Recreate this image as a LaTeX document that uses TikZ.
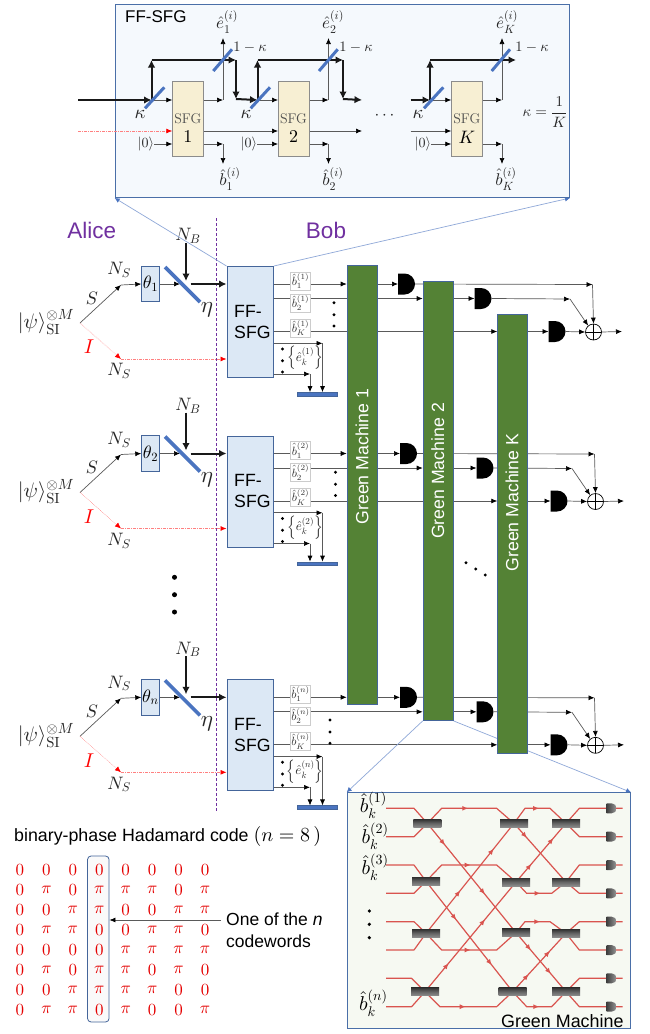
\documentclass[tikz,border=0pt]{standalone}
\usepackage[no-math]{fontspec}
\usepackage{amsmath}
\DeclareFontShape{OML}{cmm}{m}{it}{<-6>cmmi5 <6-8.5>cmmi7 <8.5->cmmi10}{}
\DeclareFontShape{OMS}{cmsy}{m}{n}{<-6>cmsy5 <6-8.5>cmsy7 <8.5->cmsy10}{}
\DeclareFontShape{OMX}{cmex}{m}{n}{<->cmex10}{}
\DeclareFontShape{OT1}{cmr}{m}{n}{<-6>cmr5 <6-8.5>cmr7 <8.5->cmr10}{}
\newfontfamily\arialf{Liberation Sans}
\usetikzlibrary{arrows.meta,decorations.markings,calc}
\pgfdeclarelayer{under}
\pgfsetlayers{under,main}
\newcommand\fsz[1]{\fontsize{#1}{#1}\selectfont}
\definecolor{framebl}{HTML}{4A6FA8}
\definecolor{insetbg}{HTML}{F5F9FD}
\definecolor{boxbl}{HTML}{DCE8F5}
\definecolor{boxedge}{HTML}{44659A}
\definecolor{sfgfill}{HTML}{F7EFD3}
\definecolor{bsblue}{HTML}{4A74C0}
\definecolor{zoomline}{HTML}{8FA8D8}
\definecolor{mgreen}{HTML}{548235}
\definecolor{purp}{HTML}{7030A0}
\definecolor{rline}{HTML}{D9544F}
\definecolor{gmbg}{HTML}{F6F9F2}
\definecolor{lgray}{HTML}{5A5A5A}
\tikzset{
  thinarr/.style={draw=lgray,line width=.7pt,-{Latex[length=6pt,width=5pt,color=black]}},
  thickarr/.style={draw=black!90,line width=2.4pt,-{Latex[length=7.5pt,width=7.5pt]}},
  redarr/.style={draw=red!50,line width=.7pt,dash pattern=on 3pt off 1pt on 1pt off 1pt,-{Latex[length=6pt,width=5pt,color=red]}},
  redtop/.style={draw=red!55,line width=.5pt,densely dotted,-{Latex[length=6pt,width=5pt,color=red]}},
  bsline/.style={draw=bsblue,line width=3.6pt},
  sfgbox/.style={draw=black!45,fill=sfgfill,line width=.8pt,minimum width=31pt,minimum height=75pt,inner sep=0pt,anchor=north west},
  mathlab/.style={inner sep=0pt,text=black!85},
  ffbox/.style={draw=boxedge,fill=boxbl,line width=.9pt,minimum width=46.5pt,minimum height=111pt,inner sep=0pt,anchor=north west,text width=32pt,align=left,font=\arialf\fontsize{17.7}{21}\selectfont},
  thbox/.style={draw=boxedge,fill=boxbl,line width=.8pt,minimum width=17.6pt,minimum height=35.7pt,inner sep=0pt},
  blabel/.style={draw=black!20,fill=white,line width=.4pt,inner sep=0pt,text=black!80,minimum width=20pt,minimum height=18pt},
  machine/.style={draw=boxedge,fill=mgreen,line width=.9pt,minimum width=30pt,inner sep=0pt,anchor=north west},
  machtext/.style={rotate=90,text=white,inner sep=0pt,font=\arialf\fontsize{17.7}{20}\selectfont},
  detector/.style={fill=white,minimum width=17pt,minimum height=21pt,inner sep=0pt,outer sep=0pt,
    path picture={\fill[black] (path picture bounding box.north west) -- ++(6.5pt,0pt) arc[start angle=90,end angle=-90,radius=10.5pt] -- (path picture bounding box.south west) -- cycle;}},
  xorgate/.style={circle,draw=black,line width=.7pt,fill=white,minimum size=16pt,inner sep=0pt,
    path picture={\draw[line width=.6pt] (path picture bounding box.north)--(path picture bounding box.south) (path picture bounding box.east)--(path picture bounding box.west);}},
  dotn/.style={circle,fill=black,inner sep=0pt,minimum size=3.2pt},
  dotbig/.style={circle,fill=black,inner sep=0pt,minimum size=5pt},
  barnode/.style={fill=bsblue,draw=boxedge,line width=.3pt,minimum width=40pt,minimum height=3.4pt,inner sep=0pt},
  redcell/.style={text=red!90!black,inner sep=0pt,font=\fsz{17}},
  gmline/.style={draw=rline,line width=1.2pt},
  gmbs/.style={minimum width=28pt,minimum height=8pt,inner sep=0pt,top color=black!80,bottom color=black!45,middle color=black!60},
  gmdet/.style={minimum width=10pt,minimum height=10pt,inner sep=0pt,outer sep=0pt,
    path picture={\shade[left color=black!75,right color=black!40] (path picture bounding box.north west) -- ++(5pt,0pt) arc[start angle=90,end angle=-90,radius=5pt] -- (path picture bounding box.south west) -- cycle;}},
  marktwo/.style 2 args={postaction={decorate,decoration={markings,
      mark=at position #1 with {\arrow{Latex[length=6pt,width=5pt]}},
      mark=at position #2 with {\arrow{Latex[length=6pt,width=5pt]}}}}},
  markone/.style={postaction={decorate,decoration={markings,
      mark=at position #1 with {\arrow{Latex[length=6pt,width=5pt]}}}}},
}
% prefix, dy, theta sub, sup label, right dx, dots dx, dots dy
\newcommand\stagepart[7]{%
\begin{scope}[shift={(0,#2)}]
  \node[ffbox] (#1ff) at (226.5,266) {FF-\\SFG};
  \node[thbox] (#1th) at (150.5,284) {\fsz{18}$\theta_{#3}$};
  \coordinate (#1fork) at (80,323);
  \coordinate (#1sc) at (121,285);
  \coordinate (#1ic) at (121,359);
  \coordinate (#1bc) at (180,284);
  \coordinate (#1nbtop) at (186,243);
  \coordinate (#1nbend) at (186,281);
  \coordinate (#1thk) at (190.5,284);
  \coordinate (#1y1) at (0,284);
  \coordinate (#1y2) at (0,298.5);
  \coordinate (#1y3) at (0,331.5);
  \coordinate (#1ya) at (0,343.3);
  \coordinate (#1yb) at (0,374);
  \coordinate (#1ca) at (322.5,343.3);
  \coordinate (#1cb) at (310,374);
  \node[mathlab] (#1psi) at (46,322) {\fsz{21}$|\psi\rangle_{\mathrm{SI}}^{\otimes M}$};
  \node[mathlab] (#1S) at (92,298) {\fsz{18}$S$};
  \node[mathlab,text=red] (#1I) at (89,347) {\fsz{20}$I$};
  \node[mathlab] (#1na) at (119,270) {\fsz{18}$N_S$};
  \node[mathlab] (#1nc) at (119,371) {\fsz{18}$N_S$};
  \node[mathlab] (#1nb) at (188,236) {\fsz{18}$N_B$};
  \node[mathlab] (#1eta) at (207,310) {\fsz{23}$\eta$};
  \draw[thinarr] (#1fork) -- (#1sc);
  \draw[thinarr] (#1sc) -- (#1th.west);
  \draw[redtop] (#1fork) -- (#1ic);
  \draw[redarr] (#1ic) -- (#1ff.west |- #1ic);
  \draw[thinarr] (#1th.east) -- (#1bc);
  \coordinate (#1bsa) at (165,267);
  \coordinate (#1bsb) at (200,302);
  \draw[bsline] (#1bsa) -- (#1bsb);
  \draw[thickarr,line width=2pt] (#1nbtop) -- (#1nbend);
  \draw[thickarr,line width=2pt] (#1thk) -- (#1ff.west |- #1thk);
  \draw[thinarr] (#1ff.east |- #1y1) -- (m1.west |- #1y1);
  \draw[thinarr] (#1ff.east |- #1y2) -- (m2.west |- #1y2);
  \draw[thinarr] (#1ff.east |- #1y3) -- (mK.west |- #1y3);
  \node[blabel] (#1ba) at (300.5,281) {\fsz{12}$\hat b_1^{(#4)}$};
  \node[blabel] (#1bb) at (300.5,303) {\fsz{12}$\hat b_2^{(#4)}$};
  \node[blabel] (#1bk) at (300.5,328) {\fsz{12}$\hat b_K^{(#4)}$};
  \node[mathlab] (#1el) at (305,358) {\fsz{13}$\left\{\hat e_k^{(#4)}\right\}$};
  \node[barnode] (#1bar) at (316.7,394) {};
  \draw[thinarr] (#1ff.east |- #1ya) -- (#1ca);
  \draw[thinarr] (#1ca) -- (#1ca |- #1bar.north);
  \draw[thinarr] (#1ff.east |- #1yb) -- (#1cb);
  \draw[thinarr] (#1cb) -- (#1cb |- #1bar.north);
  \foreach \ey [count=\ei] in {349,360.7,372} {\node[dotn] (#1ed\ei) at (282.5,\ey) {};}
  \foreach \ey [count=\ei] in {302.7,314.7,326} {\node[dotn] (#1rd\ei) at (334+#6,\ey+#7) {};}
  \node[detector] (#1d1) at (406.5+#5,284) {};
  \node[detector] (#1d2) at (483+#5,298.5) {};
  \node[detector] (#1d3) at (557+#5,331.5) {};
  \node[xorgate] (#1xor) at (593.5+#5,332) {};
  \coordinate (#1j1) at (592.5+#5,284.5);
  \coordinate (#1j2) at (570+#5,299);
  \coordinate (#1out) at (622+#5,331.5);
  \draw[thinarr] (m1.east |- #1y1) -- (#1d1.west);
  \draw[thinarr] (m2.east |- #1y2) -- (#1d2.west);
  \draw[thinarr] (mK.east |- #1y3) -- (#1d3.west);
  \draw[thinarr] (#1d1.east) -- (#1j1);
  \draw[thinarr] (#1j1) -- (#1xor.north);
  \draw[thinarr] (#1d2.east) -- (#1j2);
  \draw[thinarr] (#1j2) -- (#1xor.130);
  \draw[thinarr] (#1d3.east) -- (#1xor.west);
  \draw[thinarr] (#1xor.east) -- (#1out);
\end{scope}}
\begin{document}
\begin{tikzpicture}[x=1pt,y=-1pt]
\useasboundingbox (0,0) rectangle (650,1034);
\begin{pgfonlayer}{under}
  \fill[white] (0,0) rectangle (650,1034);
\end{pgfonlayer}
% ---------- FF-SFG inset ----------
\node[draw=framebl,fill=insetbg,line width=1pt,minimum width=454.3pt,minimum height=193.5pt,inner sep=0pt,anchor=north west] (inset) at (114.7,3.5) {};
\node[inner sep=0pt,anchor=west,font=\arialf\fontsize{17}{20}\selectfont] (insettitle) at (125,17) {FF-SFG};
\node[sfgbox] (sfg1) at (172.3,81.3) {};
\node[sfgbox] (sfg2) at (278,81.3) {};
\node[sfgbox] (sfgK) at (451.3,81.3) {};
\node[inner sep=0pt,text=black!70] (sfg1t) at (187.8,119) {\fsz{14}SFG};
\node[inner sep=0pt,text=black!70] (sfg2t) at (293.5,119) {\fsz{14}SFG};
\node[inner sep=0pt,text=black!70] (sfgKt) at (466.8,119) {\fsz{14}SFG};
\node[inner sep=0pt] (sfg1n) at (187.8,137) {\fsz{18}$1$};
\node[inner sep=0pt] (sfg2n) at (293.5,137) {\fsz{18}$2$};
\node[inner sep=0pt] (sfgKn) at (466.8,137) {\fsz{18}$K$};
\coordinate (in1) at (78,100);
\coordinate (ri) at (78,131);
\coordinate (b1) at (151.5,100);
\coordinate (t1) at (151.5,60);
\coordinate (q1) at (236,60);
\coordinate (w1) at (236,99);
\coordinate (b2) at (257.5,100);
\coordinate (t2) at (257.5,60);
\coordinate (q2) at (343,60);
\coordinate (w2) at (343,99);
\coordinate (o2) at (362,100);
\coordinate (i3) at (410.7,100);
\coordinate (b3) at (430,100);
\coordinate (t3) at (430,60);
\coordinate (q3) at (516,60);
\coordinate (e1) at (223,100);
\coordinate (e2) at (328.5,100);
\coordinate (e3) at (502,100);
\coordinate (d1) at (223,144);
\coordinate (d2) at (328.5,144);
\coordinate (d3) at (502,144);
\coordinate (o3) at (362,131);
\coordinate (i4) at (410.7,131);
\draw[thinarr] (b1) -- (sfg1.west |- b1);
\draw[thinarr] (b2) -- (sfg2.west |- b2);
\draw[thinarr] (b3) -- (sfgK.west |- b3);
\draw[thinarr] (sfg1.east |- e1) -- (e1);
\draw[thinarr] (sfg2.east |- e2) -- (e2);
\draw[thinarr] (sfgK.east |- e3) -- (e3);
\draw[thinarr] (e1) -- (223,38);
\draw[thinarr] (e2) -- (328.5,38);
\draw[thinarr] (e3) -- (502,38);
\draw[thinarr] (sfg1.east |- d1) -- (d1);
\draw[thinarr] (sfg2.east |- d2) -- (d2);
\draw[thinarr] (sfgK.east |- d3) -- (d3);
\draw[thinarr] (d1) -- (223,164);
\draw[thinarr] (d2) -- (328.5,164);
\draw[thinarr] (d3) -- (502,164);
\draw[redarr] (ri) -- (sfg1.west |- ri);
\draw[thinarr] (sfg1.east |- ri) -- (sfg2.west |- ri);
\draw[thinarr] (sfg2.east |- ri) -- (o3);
\draw[thinarr] (i4) -- (sfgK.west |- i4);
\draw[thickarr] (in1) -- (b1);
\draw[thickarr,line width=2pt] (b1) -- (t1);
\draw[thickarr,line width=2pt] (t1) -- (q1);
\draw[thickarr,line width=2pt] (q1) -- (w1);
\draw[thickarr,line width=2pt] (w1) -- (b2);
\draw[thickarr,line width=2pt] (b2) -- (t2);
\draw[thickarr,line width=2pt] (t2) -- (q2);
\draw[thickarr,line width=2pt] (q2) -- (w2);
\draw[thickarr,line width=2pt] (w2) -- (o2);
\draw[thickarr,line width=2pt] (i3) -- (b3);
\draw[thickarr,line width=2pt] (b3) -- (t3);
\draw[thickarr,line width=2pt] (t3) -- (q3);
\draw[bsline,line width=3pt] (145,108.3) -- (164.3,87.3);
\draw[bsline,line width=3pt] (250.7,108.3) -- (270,87.3);
\draw[bsline,line width=3pt] (424,108.3) -- (443.3,87.3);
\draw[bsline,line width=3pt] (213.3,71) -- (232,49.3);
\draw[bsline,line width=3pt] (319,71) -- (337.7,49.3);
\draw[bsline,line width=3pt] (491.7,71) -- (510,49.3);
\node[mathlab] (ie1) at (227,22) {\fsz{17}$\hat e_1^{(i)}$};
\node[mathlab] (ie2) at (333,22) {\fsz{17}$\hat e_2^{(i)}$};
\node[mathlab] (ieK) at (507,22) {\fsz{17}$\hat e_K^{(i)}$};
\node[mathlab] (ib1) at (230,179) {\fsz{17}$\hat b_1^{(i)}$};
\node[mathlab] (ib2) at (333,179) {\fsz{17}$\hat b_2^{(i)}$};
\node[mathlab] (ibK) at (506,179) {\fsz{17}$\hat b_K^{(i)}$};
\node[mathlab] (kt1) at (250,47) {\fsz{14.5}$1-\kappa$};
\node[mathlab] (kt2) at (356,47) {\fsz{14.5}$1-\kappa$};
\node[mathlab] (kt3) at (532,47) {\fsz{14.5}$1-\kappa$};
\node[mathlab] (ka1) at (140,114) {\fsz{19}$\kappa$};
\node[mathlab] (ka2) at (246,114) {\fsz{19}$\kappa$};
\node[mathlab] (ka3) at (418,114) {\fsz{19}$\kappa$};
\node[mathlab] (z1) at (146,144) {\fsz{14}$|0\rangle$};
\node[mathlab] (z2) at (249,144) {\fsz{14}$|0\rangle$};
\node[mathlab] (z3) at (423,144) {\fsz{14}$|0\rangle$};
\draw[thinarr] (z1.east) -- (sfg1.west |- z1);
\draw[thinarr] (z2.east) -- (sfg2.west |- z2);
\draw[thinarr] (z3.east) -- (sfgK.west |- z3);
\node[mathlab] (idots) at (386,116) {\fsz{17}$\cdots$};
\node[mathlab] (kform) at (545,112) {\fsz{15}$\kappa=\dfrac{1}{K}$};
% ---------- Green Machines ----------
\node[machine,minimum height=439pt] (m1) at (346.7,265) {};
\node[machine,minimum height=439pt] (m2) at (422.7,281) {};
\node[machine,minimum height=439pt] (mK) at (497.3,314) {};
\node[machtext] (m1t) at (362,456.5) {Green Machine 1};
\node[machtext] (m2t) at (437.7,471) {Green Machine 2};
\node[machtext] (mKt) at (512,502.5) {Green Machine K};
% ---------- Alice / Bob ----------
\node[inner sep=0pt,text=purp,font=\arialf\fontsize{22.5}{26}\selectfont] (alice) at (91.7,230) {Alice};
\node[inner sep=0pt,text=purp,font=\arialf\fontsize{22.5}{26}\selectfont] (bob) at (326,230) {Bob};
\foreach \vy [count=\vi] in {577.3,594.7,612} {\node[dotbig] (vd\vi) at (174.5,\vy) {};}
\foreach \dx/\dy [count=\di] in {466/562.7,475.7/569,485.3/575} {\node[dotn] (dd\di) at (\dx,\dy) {};}
% ---------- Green Machine inset ----------
\node[draw=framebl,fill=gmbg,line width=1pt,minimum width=283.3pt,minimum height=236pt,inner sep=0pt,anchor=north west] (gm) at (346.7,792.3) {};
\begin{scope}[shift={(340,780)},x=0.33333pt,y=-0.33333pt]
  \foreach \nm/\cx/\cy in {a1/262/130,a2/258/304,a3/258/460,a4/255/635,
                           b1/522/130,b2/528/306,b3/528/458,b4/518/635,
                           c1/678/130,c2/678/306,c3/678/460,c4/678/635}
    {\coordinate (\nm) at (\cx,\cy);}
  % inputs
  \foreach \yy/\tg/\xb in {85/a1/222,170/a1/222,255/a2/222,340/a2/222,425/a3/222,510/a3/222,595/a4/215,680/a4/215}
    {\draw[gmline,line join=round] (138,\yy) -- (\xb,\yy) -- (\tg);}
  % first column to second
  \draw[gmline,markone=.48] (a1) -- (305,85) -- (470,85) -- (b1);
  \draw[gmline,marktwo={.2}{.65}] (a1) -- (b3);
  \draw[gmline,markone=.5] (a2) -- (305,255) -- (470,255) -- (b2);
  \draw[gmline,marktwo={.35}{.76}] (a2) -- (b4);
  \draw[gmline,marktwo={.39}{.77}] (a3) -- (b1);
  \draw[gmline,markone=.5] (a3) -- (305,510) -- (470,510) -- (b3);
  \draw[gmline,marktwo={.26}{.66}] (a4) -- (b2);
  \draw[gmline,markone=.47] (a4) -- (300,680) -- (470,680) -- (b4);
  % second column to third
  \draw[gmline,markone=.5] (b1) -- (555,85) -- (630,85) -- (c1);
  \draw[gmline,markone=.25] (b1) -- (c2);
  \draw[gmline,marktwo={.31}{.75}] (b2) -- (c1);
  \draw[gmline,markone=.5] (b2) -- (560,340) -- (635,340) -- (c2);
  \draw[gmline,markone=.5] (b3) -- (555,425) -- (630,425) -- (c3);
  \draw[gmline,marktwo={.3}{.7}] (b3) -- (c4);
  \draw[gmline,marktwo={.3}{.7}] (b4) -- (c3);
  \draw[gmline,markone=.5] (b4) -- (560,680) -- (635,680) -- (c4);
  % outputs
  \foreach \src/\yy [count=\oi] in {c1/85,c1/170,c2/255,c2/340,c3/425,c3/510,c4/595,c4/680}
    {\coordinate (ge\oi) at (848,\yy);
     \draw[gmline] (\src) -- (718,\yy) -- (ge\oi);
     \node[gmdet] (gd\oi) at (815,\yy) {};}
  \foreach \nm in {a1,a2,a3,a4,b1,b2,b3,b4,c1,c2,c3,c4}
    {\node[gmbs] (BS\nm) at (\nm) {};}
  \node[inner sep=0pt] (gl1) at (100,75) {\fsz{20}$\hat b_k^{(1)}$};
  \node[inner sep=0pt] (gl2) at (105,168) {\fsz{20}$\hat b_k^{(2)}$};
  \node[inner sep=0pt] (gl3) at (105,262) {\fsz{20}$\hat b_k^{(3)}$};
  \node[inner sep=0pt] (gln) at (100,670) {\fsz{20}$\hat b_k^{(n)}$};
  \foreach \gy [count=\gi] in {393,433,473} {\node[dotn,minimum size=3.6pt] (gdot\gi) at (88,\gy) {};}
  \node[inner sep=0pt,font=\arialf\fontsize{17.9}{20}\selectfont] (gmname) at (667,722) {Green Machine};
\end{scope}
% ---------- Hadamard code ----------
\node[inner sep=0pt,anchor=west,font=\arialf\fontsize{17.8}{20}\selectfont] (hadtitle) at (14,836) {binary-phase Hadamard code {\fsz{20}$(n=8\,)$}};
\node[draw=boxedge,fill=black!2,rounded corners=3.5pt,line width=.8pt,minimum width=21.5pt,minimum height=166pt,inner sep=0pt] (hbox) at (98.3,939) {};
\foreach \row [count=\j from 0] in {
  {0,0,0,0,0,0,0,0},
  {0,\pi,0,\pi,\pi,\pi,0,\pi},
  {0,0,\pi,\pi,0,0,\pi,\pi},
  {0,\pi,\pi,0,0,\pi,\pi,0},
  {0,0,0,0,\pi,\pi,\pi,\pi},
  {0,\pi,0,\pi,\pi,0,\pi,0},
  {0,0,\pi,\pi,\pi,\pi,0,0},
  {0,\pi,\pi,0,\pi,0,0,\pi}}
  {\foreach \val [count=\i from 0] in \row
    {\node[redcell] (h\j-\i) at ({20+26.43*\i},{870+20*\j}) {$\val$};}}
\node[inner sep=0pt,anchor=west,align=left,font=\arialf\fontsize{17.5}{22}\selectfont] (onecode) at (226,930) {One of the \textit{n}\\codewords};
\coordinate (codeptr) at (221,920);
\draw[thinarr] (codeptr) -- (hbox.east |- codeptr);
% ---------- stages (below the machines) ----------
\begin{pgfonlayer}{under}
  \coordinate (dv1) at (216,218);
  \coordinate (dv2) at (216,812);
  \draw[draw=purp,line width=.8pt,dash pattern=on 3pt off 2pt] (dv1) -- (dv2);
  \stagepart{sa}{0}{1}{1}{0}{0}{0}
  \stagepart{sb}{169.5}{2}{2}{2}{1.5}{0}
  \stagepart{sc}{413.3}{n}{n}{2}{-4}{4}
  \draw[zoomline,line width=.7pt,-{Latex[length=5pt,width=5pt,color=bsblue]}] (saff.north west) -- (inset.south west);
  \draw[zoomline,line width=.7pt,-{Latex[length=5pt,width=5pt,color=bsblue]}] (saff.north east) -- (inset.south east);
  \draw[zoomline,line width=.7pt,-{Latex[length=5pt,width=5pt,color=bsblue]}] (m2.south west) -- (gm.north west);
  \draw[zoomline,line width=.7pt,-{Latex[length=5pt,width=5pt,color=bsblue]}] (m2.south east) -- (gm.north east);
\end{pgfonlayer}
\end{tikzpicture}
\end{document}
